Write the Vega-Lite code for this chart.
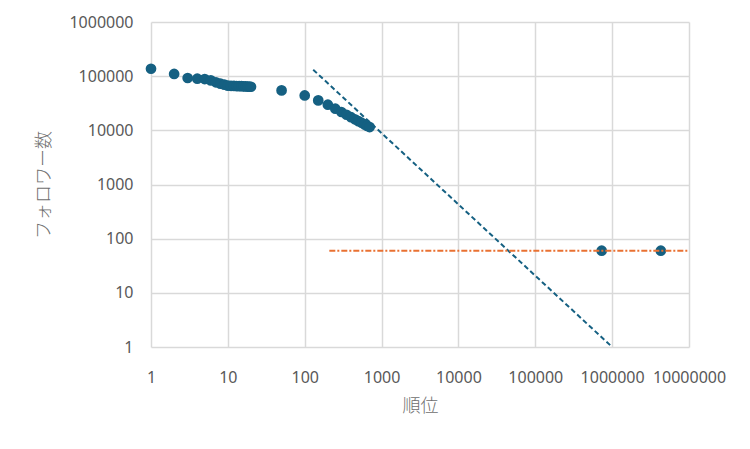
{
  "$schema": "https://vega.github.io/schema/vega-lite/v6.json",
  "width": 538,
  "height": 325,
  "autosize": {"type": "none"},
  "padding": {"left": 151, "top": 22, "right": 61, "bottom": 102},
  "background": "white",
  "config": {
    "view": {"stroke": null},
    "font": "Noto Sans",
    "axis": {
      "grid": true,
      "gridColor": "#d9d9d9",
      "gridWidth": 1.5,
      "ticks": false,
      "domain": false,
      "labelColor": "#595959",
      "labelFontSize": 16,
      "labelFont": "Noto Sans",
      "titleColor": "#6e6e6e",
      "titleFont": "Noto Sans CJK JP",
      "titleFontSize": 18,
      "titleFontWeight": 300
    }
  },
  "datasets": {
    "pts": [
      {"rank": 1, "followers": 137000},
      {"rank": 2, "followers": 110000},
      {"rank": 3, "followers": 92500},
      {"rank": 4, "followers": 89800},
      {"rank": 5, "followers": 88500},
      {"rank": 6, "followers": 83500},
      {"rank": 7, "followers": 77000},
      {"rank": 8, "followers": 72500},
      {"rank": 9, "followers": 69500},
      {"rank": 10, "followers": 67000},
      {"rank": 11, "followers": 66500},
      {"rank": 12, "followers": 66000},
      {"rank": 13, "followers": 65800},
      {"rank": 14, "followers": 65500},
      {"rank": 15, "followers": 65200},
      {"rank": 16, "followers": 65000},
      {"rank": 17, "followers": 64700},
      {"rank": 18, "followers": 64400},
      {"rank": 19, "followers": 64100},
      {"rank": 20, "followers": 63800},
      {"rank": 50, "followers": 54600},
      {"rank": 100, "followers": 44100},
      {"rank": 150, "followers": 35700},
      {"rank": 200, "followers": 29700},
      {"rank": 250, "followers": 25100},
      {"rank": 300, "followers": 21800},
      {"rank": 350, "followers": 19400},
      {"rank": 400, "followers": 17500},
      {"rank": 450, "followers": 16000},
      {"rank": 500, "followers": 14800},
      {"rank": 550, "followers": 13800},
      {"rank": 600, "followers": 12900},
      {"rank": 650, "followers": 12100},
      {"rank": 700, "followers": 11500},
      {"rank": 731000, "followers": 60},
      {"rank": 4300000, "followers": 60}
    ],
    "powerline": [
      {"rank": 129, "followers": 131500},
      {"rank": 957000, "followers": 1.06}
    ],
    "flatline": [
      {"rank": 209, "followers": 60},
      {"rank": 10000000, "followers": 60}
    ]
  },
  "layer": [
    {
      "data": {"name": "pts"},
      "mark": {"type": "point", "filled": true, "shape": "circle", "size": 115, "color": "#156082", "opacity": 1},
      "encoding": {
        "x": {
          "field": "rank", "type": "quantitative",
          "scale": {"type": "log", "domain": [1, 10000000], "nice": false},
          "axis": {
            "values": [1, 10, 100, 1000, 10000, 100000, 1000000, 10000000],
            "format": "d",
            "title": "順位",
            "labelPadding": 22,
            "labelFlush": false,
            "labelOverlap": false,
            "titleX": 269,
            "titleY": 59,
            "titleBaseline": "middle",
            "titleAnchor": "middle",
            "titleAlign": "center"
          }
        },
        "y": {
          "field": "followers", "type": "quantitative",
          "scale": {"type": "log", "domain": [1, 1000000], "nice": false},
          "axis": {
            "values": [1, 10, 100, 1000, 10000, 100000, 1000000],
            "format": "d",
            "title": "フォロワー数",
            "labelPadding": 18,
            "labelFlush": false,
            "labelOverlap": false,
            "titleX": -107,
            "titleY": 162.5,
            "titleAngle": -90,
            "titleBaseline": "middle",
            "titleAlign": "center",
            "titleAnchor": "middle"
          }
        }
      }
    },
    {
      "data": {"name": "powerline"},
      "mark": {"type": "line", "color": "#156082", "strokeWidth": 2, "strokeDash": [5, 3]},
      "encoding": {
        "x": {"field": "rank", "type": "quantitative"},
        "y": {"field": "followers", "type": "quantitative"}
      }
    },
    {
      "data": {"name": "flatline"},
      "mark": {"type": "line", "color": "#E97132", "strokeWidth": 2, "strokeDash": [6, 2, 2, 2]},
      "encoding": {
        "x": {"field": "rank", "type": "quantitative"},
        "y": {"field": "followers", "type": "quantitative"}
      }
    }
  ]
}
